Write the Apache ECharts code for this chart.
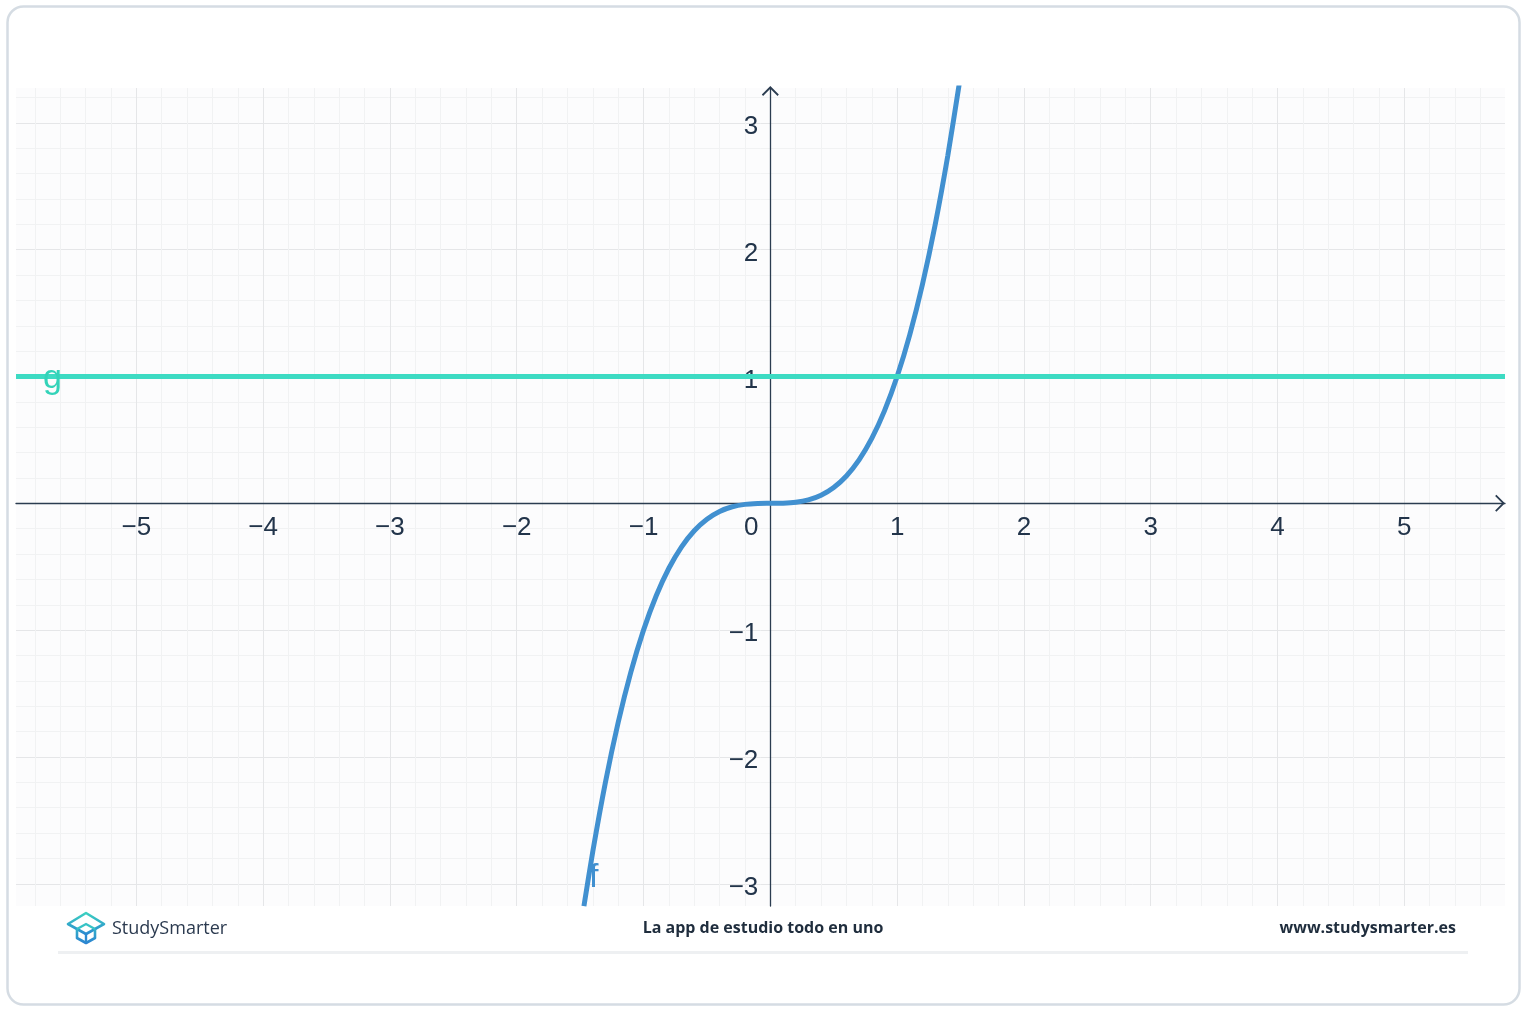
<!DOCTYPE html>
<html>
<head>
<meta charset="utf-8">
<script src="https://cdn.jsdelivr.net/npm/echarts@6/dist/echarts.min.js"></script>
<style>
html,body{margin:0;padding:0;background:#ffffff;}
#chart{width:1527px;height:1012px;}
</style>
</head>
<body>
<div id="chart"></div>
<script>
// Axis extents (visible window of the plot)
var X_MIN = -5.949, X_MAX = 5.794;
var Y_MIN = -3.175, Y_MAX = 3.275;

// Major tick values (labels)
var xTicks = [-5, -4, -3, -2, -1, 0, 1, 2, 3, 4, 5];
var yTicks = [-3, -2, -1, 0, 1, 2, 3];
var MINOR_STEP = 0.2;

// f: curve (x, y)
var fX = [1.49, 1.4, 1.3, 1.2, 1.1, 1.0, 0.9, 0.8, 0.7, 0.6, 0.5, 0.4, 0.3, 0.2, 0.1, 0.0,
          -0.1, -0.2, -0.3, -0.4, -0.5, -0.6, -0.7, -0.8, -0.9, -1.0, -1.1, -1.2, -1.3, -1.4, -1.47];
var fY = [3.308, 2.744, 2.197, 1.728, 1.331, 1.0, 0.729, 0.512, 0.343, 0.216, 0.125, 0.064, 0.027, 0.008, 0.001, 0.0,
          -0.001, -0.008, -0.027, -0.064, -0.125, -0.216, -0.343, -0.512, -0.729, -1.0, -1.331, -1.728, -2.197, -2.744, -3.176];

// g: horizontal line y = 1 across the plot
var gX = [X_MAX, X_MIN];
var gY = [1, 1];

// Series labels and footer texts
var seriesNames = ['f', 'g'];
var footerBrand = 'StudySmarter';
var footerTagline = 'La app de estudio todo en uno';
var footerUrl = 'www.studysmarter.es';

function zip(xs, ys) { return xs.map(function (x, i) { return [x, ys[i]]; }); }
// minor grid positions between the axis extents (skipping whole numbers)
function minorValues(lo, hi, step) {
  var out = [];
  var k0 = Math.ceil(lo / step), k1 = Math.floor(hi / step);
  for (var k = k0; k <= k1; k++) {
    var v = Math.round(k * step * 1000) / 1000;
    if (Math.abs(v - Math.round(v)) > 1e-6) out.push(v);
  }
  return out;
}

var AXIS_COLOR = '#2b3c50';
var LABEL_COLOR = '#22344a';
var FONT = 'Liberation Sans, Arial, sans-serif';
var chevron = 'path://M0,10 L10,0 L20,10 L18.5,11.5 L10,3 L1.5,11.5 Z';

function fmtTick(v) { return String(v).replace('-', '\u2212'); }

var chart = echarts.init(document.getElementById('chart'), null, {renderer: 'canvas'});

function buildOption(xOffset, yOffset) {
  return {
    backgroundColor: '#ffffff',
    animation: false,
    grid: {
      left: 16, right: 22, top: 88, bottom: 106,
      containLabel: false, outerBoundsMode: 'none',
      show: true, backgroundColor: '#fcfcfd', borderWidth: 0
    },
    xAxis: [{
      type: 'value', min: X_MIN, max: X_MAX, position: 'bottom', offset: xOffset,
      axisLine: {
        show: true, onZero: false,
        lineStyle: {color: AXIS_COLOR, width: 1.3},
        symbol: ['none', chevron], symbolSize: [17, 10], symbolOffset: [0, -5]
      },
      axisTick: {show: false, customValues: xTicks},
      axisLabel: {
        show: true, margin: 11, fontSize: 26, color: LABEL_COLOR, fontFamily: FONT,
        customValues: xTicks, hideOverlap: false,
        formatter: function (v) { return v === 0 ? '{z|0}' : fmtTick(v); },
        rich: {z: {fontSize: 26, color: LABEL_COLOR, fontFamily: FONT, padding: [0, 38, 0, 0]}}
      },
      splitLine: {show: true, lineStyle: {color: '#e5e6e8', width: 1}},
      minorSplitLine: {show: false}
    }, {
      type: 'value', min: X_MIN, max: X_MAX, position: 'top', gridIndex: 0,
      axisLine: {show: false, onZero: false}, axisTick: {show: false, customValues: minorValues(X_MIN, X_MAX, MINOR_STEP)},
      axisLabel: {show: false},
      splitLine: {show: true, lineStyle: {color: '#f1f2f3', width: 1}}
    }],
    yAxis: [{
      type: 'value', min: Y_MIN, max: Y_MAX, position: 'left', offset: yOffset,
      axisLine: {
        show: true, onZero: false,
        lineStyle: {color: AXIS_COLOR, width: 1.3},
        symbol: ['none', chevron], symbolSize: [17, 10], symbolOffset: [0, -3]
      },
      axisTick: {show: false, customValues: yTicks},
      axisLabel: {
        show: true, margin: 12, fontSize: 26, color: LABEL_COLOR, fontFamily: FONT,
        customValues: yTicks, hideOverlap: false,
        formatter: function (v) { return v === 0 ? '' : '{t|' + fmtTick(v) + '}'; },
        rich: {t: {fontSize: 26, color: LABEL_COLOR, fontFamily: FONT, padding: [8, 0, 0, 0]}}
      },
      splitLine: {show: true, lineStyle: {color: '#e5e6e8', width: 1}},
      minorSplitLine: {show: false}
    }, {
      type: 'value', min: Y_MIN, max: Y_MAX, position: 'right', gridIndex: 0,
      axisLine: {show: false, onZero: false}, axisTick: {show: false, customValues: minorValues(Y_MIN, Y_MAX, MINOR_STEP)},
      axisLabel: {show: false},
      splitLine: {show: true, lineStyle: {color: '#f1f2f3', width: 1}}
    }],
    series: [
      {
        name: seriesNames[0], type: 'line', data: zip(fX, fY), xAxisIndex: 0, yAxisIndex: 0,
        showSymbol: false, symbol: 'none', smooth: 0.25, clip: true, z: 3,
        lineStyle: {color: '#4190d0', width: 5},
        endLabel: {
          show: true, formatter: seriesNames[0], color: '#4190d0', fontSize: 34,
          fontFamily: FONT, distance: 5, offset: [0, -29]
        }
      },
      {
        name: seriesNames[1], type: 'line', data: zip(gX, gY), xAxisIndex: 0, yAxisIndex: 0,
        showSymbol: false, symbol: 'none', clip: true, z: 4,
        lineStyle: {color: '#3ddbc3', width: 5},
        endLabel: {
          show: true, formatter: seriesNames[1], color: '#33d3b9', fontSize: 34,
          fontFamily: FONT, distance: 27, offset: [0, 2]
        }
      }
    ],
    graphic: [
      {type: 'rect', z: 100, silent: true,
       shape: {x: 7.5, y: 6.5, width: 1512, height: 998, r: 16},
       style: {fill: 'none', stroke: '#d5dce3', lineWidth: 2.5}},
      {type: 'line', z: 100, silent: true,
       shape: {x1: 58, y1: 952.5, x2: 1468, y2: 952.5},
       style: {stroke: '#eef0f2', lineWidth: 3}},
      {type: 'group', z: 100, silent: true, children: [
        {type: 'polygon', shape: {points: [[68, 924], [86, 913], [104, 924], [86, 934]]},
         style: {fill: 'none', lineWidth: 2.6, lineJoin: 'round',
           stroke: new echarts.graphic.LinearGradient(0, 0, 0, 1, [{offset: 0, color: '#3dd8bf'}, {offset: 1, color: '#2a82d2'}], false)}},
        {type: 'polyline', shape: {points: [[77, 929], [77, 938], [86, 943], [95, 938], [95, 929]]},
         style: {fill: 'none', lineWidth: 2.6, lineJoin: 'round',
           stroke: new echarts.graphic.LinearGradient(0, 0, 0, 1, [{offset: 0, color: '#35b8c8'}, {offset: 1, color: '#2a7cd2'}], false)}},
        {type: 'polyline', shape: {points: [[77, 929], [86, 924], [95, 929]]},
         style: {fill: 'none', lineWidth: 2.4, stroke: '#37c3c6'}},
        {type: 'line', shape: {x1: 86, y1: 934, x2: 86, y2: 943},
         style: {lineWidth: 2.4, stroke: '#2d8ad0'}}
      ]},
      {type: 'text', z: 100, silent: true, x: 112, y: 929,
       style: {text: footerBrand, fill: '#2b3a4f', font: '500 18px "Open Sans", sans-serif', textVerticalAlign: 'middle'}},
      {type: 'text', z: 100, silent: true, x: 763, y: 928,
       style: {text: footerTagline, fill: '#1f2d3d', font: 'bold 16px "Open Sans", sans-serif', textAlign: 'center', textVerticalAlign: 'middle'}},
      {type: 'text', z: 100, silent: true, x: 1456, y: 928,
       style: {text: footerUrl, fill: '#1f2d3d', font: 'bold 16px "Open Sans", sans-serif', textAlign: 'right', textVerticalAlign: 'middle'}}
    ]
  };
}

// First pass: lay out, then move axes so they cross at the origin
chart.setOption(buildOption(0, 0));
var origin = chart.convertToPixel({xAxisIndex: 0, yAxisIndex: 0}, [0, 0]);
var corner = chart.convertToPixel({xAxisIndex: 0, yAxisIndex: 0}, [X_MIN, Y_MIN]);
var xOff = origin[1] - corner[1];   // negative: move x axis up
var yOff = corner[0] - origin[0];   // negative: move y axis right
chart.setOption(buildOption(xOff, yOff), true);
</script>
</body>
</html>
